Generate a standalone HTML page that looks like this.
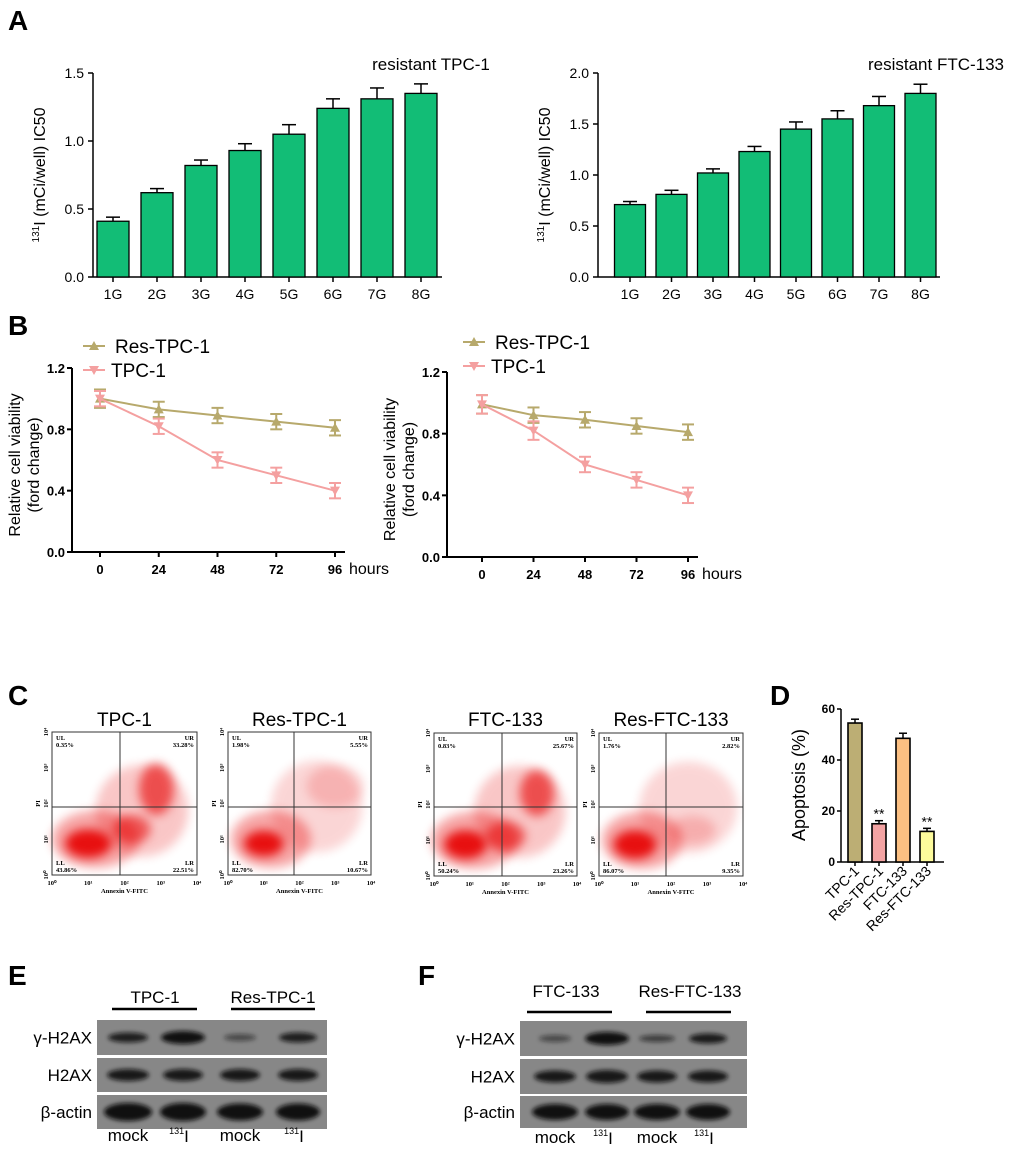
<!DOCTYPE html>
<html><head><meta charset="utf-8"><style>
body{margin:0;background:#fff}
svg{display:block;font-family:"Liberation Sans",Arial,sans-serif}
</style></head><body>
<svg id="fig" width="1020" height="1155" viewBox="0 0 1020 1155" xmlns="http://www.w3.org/2000/svg">
<defs>
<filter id="blur6" x="-50%" y="-50%" width="200%" height="200%"><feGaussianBlur stdDeviation="5"/></filter>
<filter id="blur3" x="-50%" y="-50%" width="200%" height="200%"><feGaussianBlur stdDeviation="3"/></filter>
<filter id="bandblur" x="-20%" y="-80%" width="140%" height="260%"><feGaussianBlur stdDeviation="2"/></filter>
</defs>
<g id="root"></g>
</svg>
<script>
// ---- Panel A data ----
const aCats = ["1G","2G","3G","4G","5G","6G","7G","8G"];
const aTpcVals = [0.41,0.62,0.82,0.93,1.05,1.24,1.31,1.35];
const aTpcErr = [0.03,0.03,0.04,0.05,0.07,0.07,0.08,0.07];
const aTpcTicks = [0,0.5,1.0,1.5];
const aFtcVals = [0.71,0.81,1.02,1.23,1.45,1.55,1.68,1.80];
const aFtcErr = [0.03,0.04,0.04,0.05,0.07,0.08,0.09,0.09];
const aFtcTicks = [0,0.5,1.0,1.5,2.0];
// ---- Panel B data ----
const bHours = [0,24,48,72,96];
const bTicks = [0,0.4,0.8,1.2];
const bResL = [1.00,0.93,0.89,0.85,0.81];
const bResLErr = [0.06,0.05,0.05,0.05,0.05];
const bTpcL = [1.00,0.82,0.60,0.50,0.40];
const bTpcLErr = [0.05,0.05,0.05,0.05,0.05];
const bResR = [0.99,0.92,0.89,0.85,0.81];
const bResRErr = [0.06,0.05,0.05,0.05,0.05];
const bTpcR = [0.99,0.82,0.60,0.50,0.40];
const bTpcRErr = [0.06,0.06,0.05,0.05,0.05];
// ---- Panel D data ----
const dCats = ["TPC-1","Res-TPC-1","FTC-133","Res-FTC-133"];
const dVals = [54.5,15,48.5,12];
const dErr = [1.5,1.2,2,1.2];
const dTicks = [0,20,40,60];
const dColors = ["#bcae74","#f3a3a3","#fbbf82","#fdfb9c"];
// ---- Panel C data ----
const cTitles = ["TPC-1","Res-TPC-1","FTC-133","Res-FTC-133"];
const cUL = ["0.35%","1.98%","0.83%","1.76%"];
const cUR = ["33.28%","5.55%","25.67%","2.82%"];
const cLL = ["43.86%","82.70%","50.24%","86.07%"];
const cLR = ["22.51%","10.67%","23.26%","9.35%"];

const NS="http://www.w3.org/2000/svg";
const root=document.getElementById('root');
function el(tag,attrs,parent,text){const e=document.createElementNS(NS,tag);for(const k in attrs)e.setAttribute(k,attrs[k]);if(text!==undefined)e.textContent=text;(parent||root).appendChild(e);return e;}

[["A",8,30],["B",8,335],["C",8,705],["D",770,705],["E",8,985],["F",418,985]].forEach(([t,x,y])=>{
 const e=el('text',{x:x,y:y,'font-size':28,'font-weight':'bold'},root,t);
 
 
});

function barA(cfg){
 const g=el('g',{});
 
 
 const y=v=>cfg.y0-(v/cfg.ymax)*(cfg.y0-cfg.ytop);
 const x=i=>cfg.x0+i*cfg.step;
 el('line',{x1:cfg.ax,y1:cfg.ytop,x2:cfg.ax,y2:cfg.y0,stroke:'#000','stroke-width':1.5},g);
 el('line',{x1:cfg.ax,y1:cfg.y0,x2:cfg.axEnd,y2:cfg.y0,stroke:'#000','stroke-width':1.5},g);
 cfg.ticks.forEach(t=>{
  el('line',{x1:cfg.ax-5,y1:y(t),x2:cfg.ax,y2:y(t),stroke:'#000','stroke-width':1.5},g);
  const tl=el('text',{x:cfg.ax-9,y:y(t)+5,'font-size':14,'text-anchor':'end'},g,t.toFixed(1));
  
  
 });
 cfg.vals.forEach((v,i)=>{
  const e=cfg.err[i];
  el('line',{x1:x(i),y1:y(v),x2:x(i),y2:y(v+e),stroke:'#000','stroke-width':1.5},g);
  el('line',{x1:x(i)-7,y1:y(v+e),x2:x(i)+7,y2:y(v+e),stroke:'#000','stroke-width':1.5},g);
  const b=el('rect',{x:x(i)-cfg.bw/2,y:y(v),width:cfg.bw,height:cfg.y0-y(v),fill:'#12bd76',stroke:'#000','stroke-width':1.3},g);
  
  
  el('line',{x1:x(i),y1:cfg.y0,x2:x(i),y2:cfg.y0+5,stroke:'#000','stroke-width':1.5},g);
  const l=el('text',{x:x(i),y:cfg.y0+22,'font-size':14,'text-anchor':'middle'},g,aCats[i]);
  
  
 });
 const yt=el('text',{transform:`translate(${cfg.ax-48},${(cfg.y0+cfg.ytop)/2}) rotate(-90)`,'font-size':16,'text-anchor':'middle'},g);
 
 
 el('tspan',{'font-size':10,dy:-6},yt,'131');
 el('tspan',{dy:6},yt,'I (mCi/well) IC50');
 const tt=el('text',{x:cfg.titleX,y:70,'font-size':17,'text-anchor':'middle'},g,cfg.title);
 
 
}
barA({name:'chart-a-tpc',ax:93,axEnd:442,y0:277,ytop:73,ymax:1.5,x0:113,step:44,bw:32,vals:aTpcVals,err:aTpcErr,ticks:aTpcTicks,title:'resistant TPC-1',titleX:431});
barA({name:'chart-a-ftc',ax:598,axEnd:940,y0:277,ytop:73,ymax:2.0,x0:630,step:41.5,bw:31,vals:aFtcVals,err:aFtcErr,ticks:aFtcTicks,title:'resistant FTC-133',titleX:936});

function lineB(cfg){
 const g=el('g',{});
 
 
 const y=v=>cfg.y0-(v/1.2)*(cfg.y0-cfg.ytop);
 const x=h=>cfg.x0+(h/96)*(cfg.x96-cfg.x0);
 el('line',{x1:cfg.ax,y1:cfg.ytop,x2:cfg.ax,y2:cfg.y0,stroke:'#000','stroke-width':2},g);
 el('line',{x1:cfg.ax,y1:cfg.y0,x2:cfg.x96+10,y2:cfg.y0,stroke:'#000','stroke-width':2},g);
 bTicks.forEach(t=>{
  el('line',{x1:cfg.ax-5,y1:y(t),x2:cfg.ax,y2:y(t),stroke:'#000','stroke-width':2},g);
  const tl=el('text',{x:cfg.ax-7,y:y(t)+5,'font-size':13,'font-weight':'bold','text-anchor':'end'},g,t.toFixed(1));
  
  
 });
 bHours.forEach(h=>{
  el('line',{x1:x(h),y1:cfg.y0,x2:x(h),y2:cfg.y0+5,stroke:'#000','stroke-width':2},g);
  const tl=el('text',{x:x(h),y:cfg.y0+22,'font-size':13,'font-weight':'bold','text-anchor':'middle'},g,h);
  
  
 });
 const hl=el('text',{x:x(96)+14,y:cfg.y0+22,'font-size':16},g,'hours');
 
 
 const series=[[cfg.res,cfg.resErr,'#b7a96c','up','res-tpc-1-line'],[cfg.tpc,cfg.tpcErr,'#f4a0a0','down','tpc-1-line']];
 series.forEach(([vals,errs,col,dir,nm])=>{
  const sg=el('g',{},g);
  
  
  el('polyline',{points:vals.map((v,i)=>x(bHours[i])+','+y(v)).join(' '),fill:'none',stroke:col,'stroke-width':2},sg);
  vals.forEach((v,i)=>{
   const cx=x(bHours[i]),e=errs[i];
   el('line',{x1:cx,y1:y(v-e),x2:cx,y2:y(v+e),stroke:col,'stroke-width':2},sg);
   el('line',{x1:cx-6,y1:y(v-e),x2:cx+6,y2:y(v-e),stroke:col,'stroke-width':2},sg);
   el('line',{x1:cx-6,y1:y(v+e),x2:cx+6,y2:y(v+e),stroke:col,'stroke-width':2},sg);
   const cy=y(v);
   const pts=dir==='up'?`${cx},${cy-5} ${cx-5},${cy+4} ${cx+5},${cy+4}`:`${cx},${cy+5} ${cx-5},${cy-4} ${cx+5},${cy-4}`;
   el('polygon',{points:pts,fill:col},sg);
  });
 });
 [[cfg.legX,cfg.legY,'#b7a96c','up','Res-TPC-1'],[cfg.legX,cfg.legY+24,'#f4a0a0','down','TPC-1']].forEach(([lx,ly,col,dir,t])=>{
  const lg=el('g',{},g);
  
  
  el('line',{x1:lx,y1:ly,x2:lx+22,y2:ly,stroke:col,'stroke-width':2},lg);
  const cx=lx+11;
  el('polygon',{points:dir==='up'?`${cx},${ly-5} ${cx-5},${ly+4} ${cx+5},${ly+4}`:`${cx},${ly+5} ${cx-5},${ly-4} ${cx+5},${ly-4}`,fill:col},lg);
  el('text',{x:lx+(t==='TPC-1'?28:32),y:ly+7,'font-size':19},lg,t);
 });
 const yt=el('text',{transform:`translate(${cfg.ax-52},${(cfg.y0+cfg.ytop)/2+5}) rotate(-90)`,'font-size':16,'text-anchor':'middle'},g);
 
 
 el('tspan',{x:0,dy:0},yt,'Relative cell viability');
 el('tspan',{x:0,dy:19},yt,'(ford change)');
}
lineB({name:'chart-b-left',ax:72,ytop:368,y0:552,x0:100,x96:335,res:bResL,resErr:bResLErr,tpc:bTpcL,tpcErr:bTpcLErr,legX:83,legY:346});
lineB({name:'chart-b-right',ax:447,ytop:372,y0:557,x0:482,x96:688,res:bResR,resErr:bResRErr,tpc:bTpcR,tpcErr:bTpcRErr,legX:463,legY:342});

const cBoxes=[[52,732,197,875,120,807],[228,732,371,875,294,807],[434,733,577,876,502,807],[599,733,743,876,666,807]];
const cBlobs=[
 [[0.30,0.75,0.30,0.20,0.35],[0.25,0.78,0.16,0.10,0.9],[0.55,0.68,0.13,0.10,0.55],[0.72,0.40,0.12,0.18,0.6],[0.62,0.55,0.32,0.32,0.22]],
 [[0.30,0.75,0.28,0.20,0.35],[0.25,0.78,0.14,0.09,0.9],[0.62,0.52,0.32,0.32,0.16],[0.75,0.38,0.2,0.15,0.16]],
 [[0.28,0.75,0.30,0.20,0.35],[0.22,0.78,0.15,0.10,0.9],[0.50,0.72,0.14,0.10,0.55],[0.72,0.42,0.12,0.16,0.6],[0.60,0.55,0.32,0.32,0.22]],
 [[0.30,0.75,0.28,0.20,0.35],[0.25,0.78,0.15,0.10,0.9],[0.62,0.52,0.34,0.32,0.16],[0.65,0.68,0.16,0.1,0.18]]
];
cBoxes.forEach((bx,k)=>{
 const [x1,y1,x2,y2,vx,hy]=bx,w=x2-x1,h=y2-y1;
 const g=el('g',{});
 
 
 const tt=el('text',{x:(x1+x2)/2,y:726,'font-size':19,'text-anchor':'middle'},g,cTitles[k]);
 
 
 cBlobs[k].forEach(([bx_,by_,rx,ry,op])=>{
  el('ellipse',{cx:x1+bx_*w,cy:y1+by_*h,rx:rx*w,ry:ry*h,fill:'#e60000',opacity:op,filter:'url(#blur6)'},g);
 });
 el('rect',{x:x1,y:y1,width:w,height:h,fill:'none',stroke:'#333','stroke-width':1},g);
 el('line',{x1:vx,y1:y1,x2:vx,y2:y2,stroke:'#333','stroke-width':1},g);
 el('line',{x1:x1,y1:hy,x2:x2,y2:hy,stroke:'#333','stroke-width':1},g);
 const fs={'font-size':6.5,'font-family':'Liberation Serif,serif','font-weight':'bold'};
 el('text',Object.assign({x:x1+4,y:y1+8},fs),g,'UL');
 el('text',Object.assign({x:x1+4,y:y1+15},fs),g,cUL[k]);
 el('text',Object.assign({x:x2-3,y:y1+8,'text-anchor':'end'},fs),g,'UR');
 el('text',Object.assign({x:x2-3,y:y1+15,'text-anchor':'end'},fs),g,cUR[k]);
 el('text',Object.assign({x:x1+4,y:y2-10},fs),g,'LL');
 el('text',Object.assign({x:x1+4,y:y2-3},fs),g,cLL[k]);
 el('text',Object.assign({x:x2-3,y:y2-10,'text-anchor':'end'},fs),g,'LR');
 el('text',Object.assign({x:x2-3,y:y2-3,'text-anchor':'end'},fs),g,cLR[k]);
 for(let i=0;i<=4;i++){
  el('text',Object.assign({x:x1+i*w/4,y:y2+10,'text-anchor':'middle'},fs),g,'10'+['⁰','¹','²','³','⁴'][i]);
  el('text',Object.assign({transform:`translate(${x1-4},${y2-i*h/4}) rotate(-90)`,'text-anchor':'middle'},fs),g,'10'+['⁰','¹','²','³','⁴'][i]);
 }
 el('text',Object.assign({x:(x1+x2)/2,y:y2+18,'text-anchor':'middle'},fs),g,'Annexin V-FITC');
 el('text',Object.assign({transform:`translate(${x1-12},${(y1+y2)/2}) rotate(-90)`,'text-anchor':'middle'},fs),g,'PI');
});

(function(){
 const g=el('g',{});
 
 
 const ax=841,y0=862,ytop=709,x0=855,step=24,bw=14;
 const y=v=>y0-(v/60)*(y0-ytop);
 const x=i=>x0+i*step;
 el('line',{x1:ax,y1:ytop,x2:ax,y2:y0,stroke:'#000','stroke-width':1.5},g);
 el('line',{x1:ax,y1:y0,x2:944,y2:y0,stroke:'#000','stroke-width':1.5},g);
 dTicks.forEach(t=>{
  el('line',{x1:ax-4,y1:y(t),x2:ax,y2:y(t),stroke:'#000','stroke-width':1.5},g);
  const tl=el('text',{x:ax-6,y:y(t)+4,'font-size':12,'font-weight':'bold','text-anchor':'end'},g,t);
  
  
 });
 dVals.forEach((v,i)=>{
  const e=dErr[i];
  el('line',{x1:x(i),y1:y(v),x2:x(i),y2:y(v+e),stroke:'#000','stroke-width':1.5},g);
  el('line',{x1:x(i)-4,y1:y(v+e),x2:x(i)+4,y2:y(v+e),stroke:'#000','stroke-width':1.5},g);
  const b=el('rect',{x:x(i)-bw/2,y:y(v),width:bw,height:y0-y(v),fill:dColors[i],stroke:'#000','stroke-width':1.6},g);
  
  
  el('line',{x1:x(i),y1:y0,x2:x(i),y2:y0+4,stroke:'#000','stroke-width':1.5},g);
  const l=el('text',{transform:`translate(${x(i)+5},${y0+10}) rotate(-45)`,'font-size':14,'text-anchor':'end'},g,dCats[i]);
  
  
  if(i%2===1){el('text',{x:x(i),y:y(v+e)-2,'font-size':14,'text-anchor':'middle'},g,'**');}
 });
 const yt=el('text',{transform:`translate(805,785) rotate(-90)`,'font-size':18,'text-anchor':'middle'},g,'Apoptosis (%)');
 
 
})();

function blot(cfg){
 const g=el('g',{});
 
 
 const labels=['γ-H2AX','H2AX','β-actin'];
 cfg.rows.forEach((r,ri)=>{
  const [ry1,ry2]=r;
  el('rect',{x:cfg.x1,y:ry1,width:cfg.x2-cfg.x1,height:ry2-ry1,fill:'#878787'},g);
  const cy=(ry1+ry2)/2;
  cfg.lanes.forEach((lx,li)=>{
   const s=cfg.bands[ri][li];
   const b=el('ellipse',{cx:lx,cy:cy,rx:s[0],ry:s[1],fill:'#111',opacity:s[2],filter:'url(#bandblur)'},g);
   
   
  });
  const t=el('text',{x:cfg.x1-5,y:cy+6,'font-size':17,'text-anchor':'end'},g,labels[ri]);
  
  
 });
 cfg.heads.forEach(([t,cx,ux1,ux2])=>{
  el('text',{x:cx,y:cfg.headY,'font-size':17,'text-anchor':'middle'},g,t);
  el('line',{x1:ux1,y1:cfg.ulY,x2:ux2,y2:cfg.ulY,stroke:'#000','stroke-width':2.5},g);
 });
 [0,2].forEach(i=>el('text',{x:cfg.lanes[i],y:cfg.mockY,'font-size':17,'text-anchor':'middle'},g,'mock'));
 [1,3].forEach(i=>{
  const t=el('text',{x:cfg.lanes[i]-4,y:cfg.mockY+1,'font-size':17,'text-anchor':'middle'},g);
  el('tspan',{'font-size':9,dy:-8},t,'131');
  el('tspan',{dy:8},t,'I');
 });
}
blot({name:'western-blot-e',x1:97,x2:327,rows:[[1020,1055],[1058,1092],[1095,1129]],lanes:[128,183,240,298],
 bands:[[[20,5,0.85],[22,6.5,0.97],[16,3.5,0.5],[19,5,0.85]],[[21,6,0.9],[20,6,0.9],[20,6,0.9],[20,6,0.9]],[[24,9,0.97],[23,9,0.97],[23,8.5,0.97],[22,8.5,0.97]]],
 heads:[['TPC-1',155,112,197],['Res-TPC-1',273,231,315]],headY:1003,ulY:1009,mockY:1141});
blot({name:'western-blot-f',x1:520,x2:747,rows:[[1021,1056],[1059,1094],[1096,1128]],lanes:[555,607,657,708],
 bands:[[[16,3.5,0.5],[22,6.5,0.97],[18,3.5,0.6],[19,5,0.88]],[[21,6,0.9],[21,6.5,0.9],[20,6,0.9],[20,6,0.9]],[[23,8,0.97],[22,8,0.97],[23,8,0.97],[22,8,0.97]]],
 heads:[['FTC-133',566,527,612],['Res-FTC-133',690,646,731]],headY:997,ulY:1012,mockY:1143});
</script>
</body></html>
